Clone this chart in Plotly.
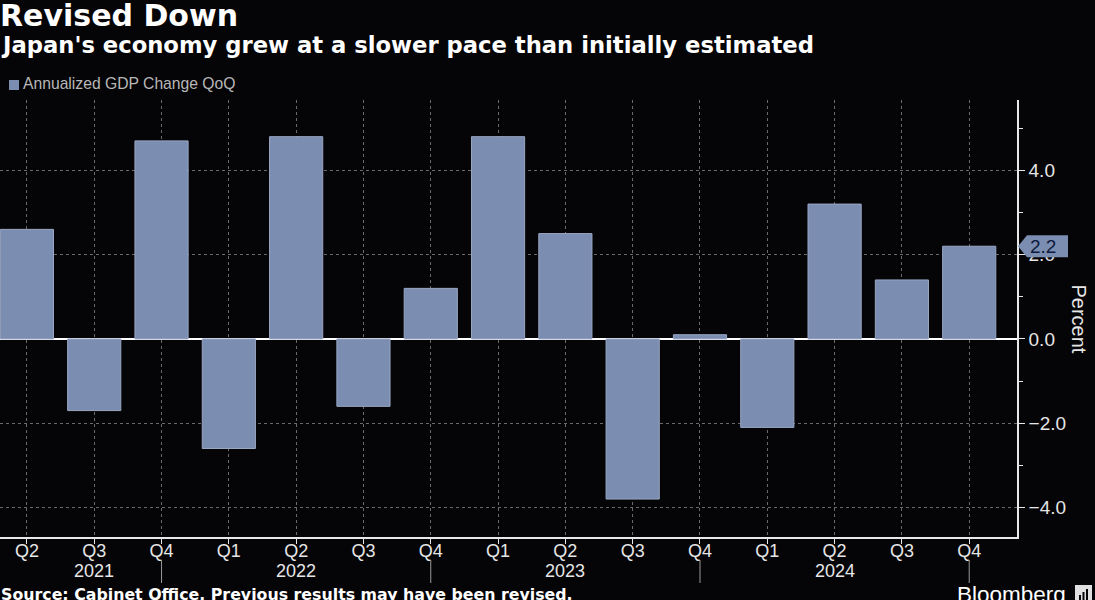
import plotly.graph_objects as go

quarters = ["Q2", "Q3", "Q4", "Q1", "Q2", "Q3", "Q4", "Q1", "Q2", "Q3", "Q4", "Q1", "Q2", "Q3", "Q4"]
years = ["", "2021", "", "", "2022", "", "", "", "2023", "", "", "", "2024", "", ""]
gdp_change = [2.6, -1.7, 4.7, -2.6, 4.8, -1.6, 1.2, 4.8, 2.5, -3.8, 0.1, -2.1, 3.2, 1.4, 2.2]
separator_idx = [2, 6, 10, 14]
last_value = gdp_change[-1]

W, H = 1095, 600
L, R, T, B = 0, 78, 100, 63
PW, PH = W - L - R, H - T - B


def px(x):
    return (x - L) / PW


def py(y):
    return (H - B - y) / PH


BAR = "#7b8db1"
FONT = "Liberation Sans"
BOLD = "DejaVu Sans"

xs = list(range(len(gdp_change)))

fig = go.Figure()
fig.add_trace(go.Bar(
    x=xs, y=gdp_change, width=0.79,
    marker=dict(color=BAR, line=dict(color="#9aa7c4", width=1)),
    name="Annualized GDP Change QoQ", showlegend=False,
    hoverinfo="skip",
))

fig.update_layout(
    width=W, height=H,
    margin=dict(l=L, r=R, t=T, b=B),
    paper_bgcolor="#050406", plot_bgcolor="#050406",
    bargap=0.2,
    xaxis=dict(
        range=[-0.4, 14.71], tickvals=xs, ticktext=quarters,
        showgrid=True, gridcolor="#6a6a6a", griddash="dot", gridwidth=1,
        showline=True, linecolor="#e8e8e8", linewidth=1.5,
        ticks="outside", ticklen=5, tickcolor="#e8e8e8",
        ticklabelstandoff=-8,
        tickfont=dict(family=FONT, size=18, color="#e6e6e6"),
        zeroline=False, fixedrange=True,
    ),
    yaxis=dict(
        side="right", range=[-4.70, 5.67], dtick=2, tick0=0, tickformat=".1f",
        showgrid=True, gridcolor="#6a6a6a", griddash="dot", gridwidth=1,
        showline=True, linecolor="#e8e8e8", linewidth=1.5,
        ticks="outside", ticklen=6, tickcolor="#e8e8e8",
        minor=dict(dtick=1, ticks="outside", ticklen=4, tickcolor="#e8e8e8", showgrid=False),
        tickfont=dict(family=FONT, size=19, color="#e6e6e6"),
        zeroline=True, zerolinecolor="#ffffff", zerolinewidth=2,
        fixedrange=True,
    ),
)

# year labels
for i, yr in enumerate(years):
    if yr:
        fig.add_annotation(xref="x", yref="paper", x=i, y=py(571), text=yr, showarrow=False,
                           xanchor="center", yanchor="middle",
                           font=dict(family=FONT, size=18, color="#e6e6e6"))

# separators below the axis
for i in separator_idx:
    fig.add_shape(type="line", xref="x", yref="paper", x0=i, x1=i,
                  y0=py(560), y1=py(583), line=dict(color="#9a9a9a", width=1))

# value tag on the right axis
fig.add_shape(type="path", xref="paper", yref="y", xsizemode="pixel", ysizemode="pixel",
              xanchor=1, yanchor=last_value,
              path="M 1,0 L 10,11 L 51,11 L 51,-11 L 10,-11 Z",
              fillcolor=BAR, line=dict(color=BAR, width=0))
fig.add_annotation(xref="paper", yref="y", x=px(1043), y=last_value, text=f"{last_value:.1f}",
                   showarrow=False, font=dict(family=FONT, size=19, color="#0d1a3c"),
                   xanchor="center", yanchor="middle")

# legend
fig.add_shape(type="rect", xref="paper", yref="paper", x0=px(9), x1=px(19), y0=py(90), y1=py(80),
              fillcolor=BAR, line=dict(width=0))
fig.add_annotation(xref="paper", yref="paper", x=px(21), y=py(84), text="Annualized GDP Change QoQ",
                   showarrow=False, xanchor="left", yanchor="middle",
                   font=dict(family=FONT, size=15.7, color="#b8b8b8"))

# titles
fig.add_annotation(xref="paper", yref="paper", x=px(-2), y=py(-4), text="<b>Revised Down</b>",
                   showarrow=False, xanchor="left", yanchor="top",
                   font=dict(family=BOLD, size=30, color="#ffffff"))
fig.add_annotation(xref="paper", yref="paper", x=px(-1), y=py(30),
                   text="<b>Japan's economy grew at a slower pace than initially estimated</b>",
                   showarrow=False, xanchor="left", yanchor="top",
                   font=dict(family=BOLD, size=22.7, color="#ffffff"))

# axis title
fig.add_annotation(xref="paper", yref="paper", x=px(1079), y=0.5, text="Percent", textangle=90,
                   showarrow=False, xanchor="center", yanchor="middle",
                   font=dict(family=FONT, size=20, color="#e6e6e6"))

# source and branding
fig.add_annotation(xref="paper", yref="paper", x=px(-1), y=py(583),
                   text="<b>Source: Cabinet Office. Previous results may have been revised.</b>",
                   showarrow=False, xanchor="left", yanchor="top",
                   font=dict(family=BOLD, size=15.8, color="#ffffff"))
fig.add_annotation(xref="paper", yref="paper", x=px(955), y=py(580), text="Bloomberg",
                   showarrow=False, xanchor="left", yanchor="top",
                   font=dict(family=FONT, size=22.5, color="#ffffff"))
fig.add_shape(type="rect", xref="paper", yref="paper", x0=px(1075), x1=px(1092), y0=py(601), y1=py(585),
              fillcolor="#e0e0e0", line=dict(width=0))
for bx0, btop in [(1079, 595), (1082.5, 592), (1086, 589)]:
    fig.add_shape(type="rect", xref="paper", yref="paper", x0=px(bx0), x1=px(bx0 + 2),
                  y0=py(600), y1=py(btop), fillcolor="#050406", line=dict(width=0))

fig.write_html("out.html", config={"displayModeBar": False},
               post_script="document.body.style.margin='0';document.body.style.overflow='hidden';")
